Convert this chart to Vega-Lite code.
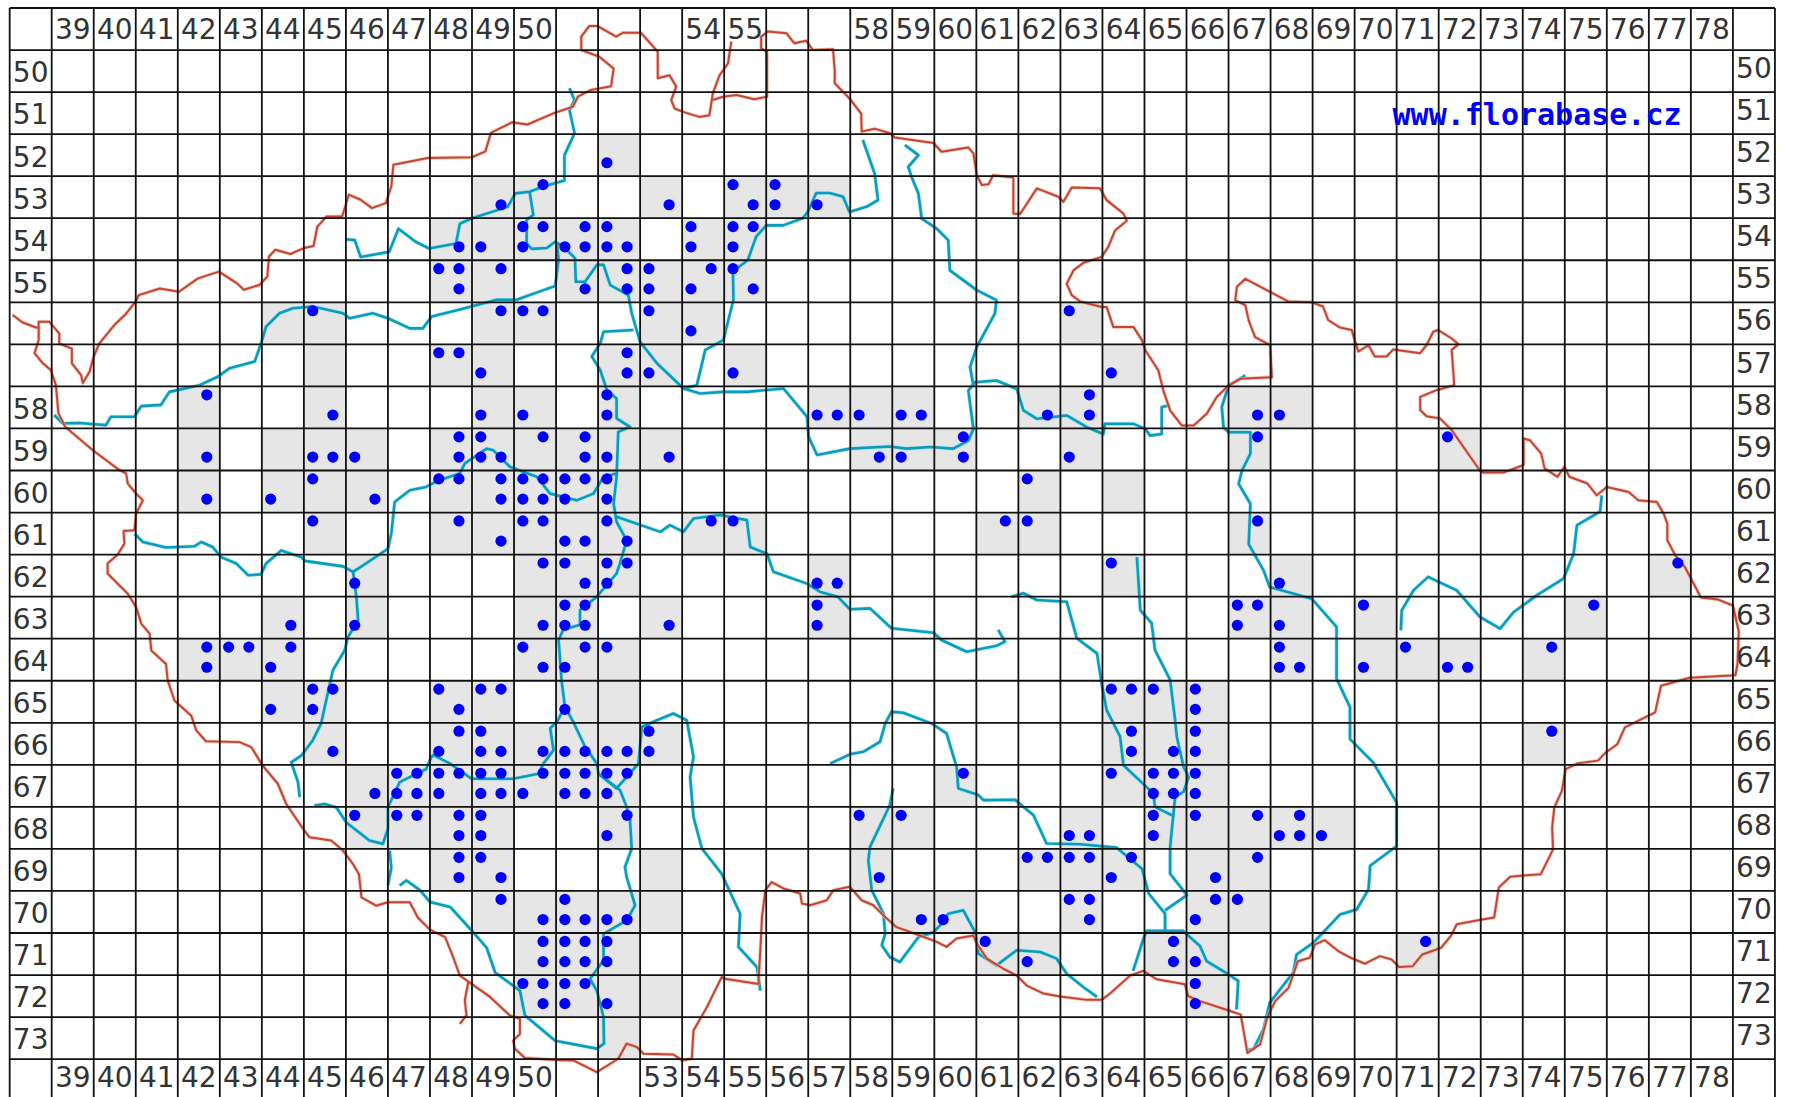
{"$schema":"https://vega.github.io/schema/vega-lite/v6.json","width":1793,"height":1097,"autosize":{"type":"none"},"padding":0,"background":"white","config":{"view":{"stroke":null}},
"datasets":{
"gray":[
{"x":52,"x2":53,"y":52,"y2":53},
{"x":49,"x2":50,"y":53,"y2":54},{"x":50,"x2":51,"y":53,"y2":54},{"x":53,"x2":54,"y":53,"y2":54},{"x":55,"x2":56,"y":53,"y2":54},{"x":56,"x2":57,"y":53,"y2":54},{"x":57,"x2":58,"y":53,"y2":54},
{"x":48,"x2":49,"y":54,"y2":55},{"x":49,"x2":50,"y":54,"y2":55},{"x":50,"x2":51,"y":54,"y2":55},{"x":51,"x2":52,"y":54,"y2":55},{"x":52,"x2":53,"y":54,"y2":55},{"x":54,"x2":55,"y":54,"y2":55},{"x":55,"x2":56,"y":54,"y2":55},
{"x":48,"x2":49,"y":55,"y2":56},{"x":49,"x2":50,"y":55,"y2":56},{"x":51,"x2":52,"y":55,"y2":56},{"x":52,"x2":53,"y":55,"y2":56},{"x":53,"x2":54,"y":55,"y2":56},{"x":54,"x2":55,"y":55,"y2":56},{"x":55,"x2":56,"y":55,"y2":56},
{"x":44,"x2":45,"y":56,"y2":57},{"x":45,"x2":46,"y":56,"y2":57},{"x":49,"x2":50,"y":56,"y2":57},{"x":50,"x2":51,"y":56,"y2":57},{"x":53,"x2":54,"y":56,"y2":57},{"x":54,"x2":55,"y":56,"y2":57},{"x":63,"x2":64,"y":56,"y2":57},
{"x":45,"x2":46,"y":57,"y2":58},{"x":48,"x2":49,"y":57,"y2":58},{"x":49,"x2":50,"y":57,"y2":58},{"x":52,"x2":53,"y":57,"y2":58},{"x":53,"x2":54,"y":57,"y2":58},{"x":55,"x2":56,"y":57,"y2":58},{"x":64,"x2":65,"y":57,"y2":58},
{"x":42,"x2":43,"y":58,"y2":59},{"x":45,"x2":46,"y":58,"y2":59},{"x":49,"x2":50,"y":58,"y2":59},{"x":50,"x2":51,"y":58,"y2":59},{"x":52,"x2":53,"y":58,"y2":59},{"x":57,"x2":58,"y":58,"y2":59},{"x":58,"x2":59,"y":58,"y2":59},{"x":59,"x2":60,"y":58,"y2":59},{"x":62,"x2":63,"y":58,"y2":59},{"x":63,"x2":64,"y":58,"y2":59},{"x":67,"x2":68,"y":58,"y2":59},{"x":68,"x2":69,"y":58,"y2":59},
{"x":42,"x2":43,"y":59,"y2":60},{"x":44,"x2":45,"y":59,"y2":60},{"x":45,"x2":46,"y":59,"y2":60},{"x":46,"x2":47,"y":59,"y2":60},{"x":48,"x2":49,"y":59,"y2":60},{"x":49,"x2":50,"y":59,"y2":60},{"x":50,"x2":51,"y":59,"y2":60},{"x":51,"x2":52,"y":59,"y2":60},{"x":52,"x2":53,"y":59,"y2":60},{"x":53,"x2":54,"y":59,"y2":60},{"x":58,"x2":59,"y":59,"y2":60},{"x":59,"x2":60,"y":59,"y2":60},{"x":60,"x2":61,"y":59,"y2":60},{"x":63,"x2":64,"y":59,"y2":60},{"x":67,"x2":68,"y":59,"y2":60},{"x":72,"x2":73,"y":59,"y2":60},
{"x":42,"x2":43,"y":60,"y2":61},{"x":44,"x2":45,"y":60,"y2":61},{"x":45,"x2":46,"y":60,"y2":61},{"x":46,"x2":47,"y":60,"y2":61},{"x":48,"x2":49,"y":60,"y2":61},{"x":49,"x2":50,"y":60,"y2":61},{"x":50,"x2":51,"y":60,"y2":61},{"x":51,"x2":52,"y":60,"y2":61},{"x":52,"x2":53,"y":60,"y2":61},{"x":62,"x2":63,"y":60,"y2":61},{"x":64,"x2":65,"y":60,"y2":61},
{"x":45,"x2":46,"y":61,"y2":62},{"x":48,"x2":49,"y":61,"y2":62},{"x":49,"x2":50,"y":61,"y2":62},{"x":50,"x2":51,"y":61,"y2":62},{"x":51,"x2":52,"y":61,"y2":62},{"x":52,"x2":53,"y":61,"y2":62},{"x":54,"x2":55,"y":61,"y2":62},{"x":55,"x2":56,"y":61,"y2":62},{"x":61,"x2":62,"y":61,"y2":62},{"x":62,"x2":63,"y":61,"y2":62},{"x":67,"x2":68,"y":61,"y2":62},
{"x":46,"x2":47,"y":62,"y2":63},{"x":50,"x2":51,"y":62,"y2":63},{"x":51,"x2":52,"y":62,"y2":63},{"x":52,"x2":53,"y":62,"y2":63},{"x":57,"x2":58,"y":62,"y2":63},{"x":64,"x2":65,"y":62,"y2":63},{"x":68,"x2":69,"y":62,"y2":63},{"x":77,"x2":78,"y":62,"y2":63},
{"x":44,"x2":45,"y":63,"y2":64},{"x":46,"x2":47,"y":63,"y2":64},{"x":50,"x2":51,"y":63,"y2":64},{"x":51,"x2":52,"y":63,"y2":64},{"x":53,"x2":54,"y":63,"y2":64},{"x":57,"x2":58,"y":63,"y2":64},{"x":67,"x2":68,"y":63,"y2":64},{"x":68,"x2":69,"y":63,"y2":64},{"x":70,"x2":71,"y":63,"y2":64},{"x":75,"x2":76,"y":63,"y2":64},
{"x":42,"x2":43,"y":64,"y2":65},{"x":43,"x2":44,"y":64,"y2":65},{"x":44,"x2":45,"y":64,"y2":65},{"x":50,"x2":51,"y":64,"y2":65},{"x":51,"x2":52,"y":64,"y2":65},{"x":52,"x2":53,"y":64,"y2":65},{"x":68,"x2":69,"y":64,"y2":65},{"x":70,"x2":71,"y":64,"y2":65},{"x":71,"x2":72,"y":64,"y2":65},{"x":72,"x2":73,"y":64,"y2":65},{"x":74,"x2":75,"y":64,"y2":65},
{"x":44,"x2":45,"y":65,"y2":66},{"x":45,"x2":46,"y":65,"y2":66},{"x":48,"x2":49,"y":65,"y2":66},{"x":49,"x2":50,"y":65,"y2":66},{"x":51,"x2":52,"y":65,"y2":66},{"x":52,"x2":53,"y":65,"y2":66},{"x":64,"x2":65,"y":65,"y2":66},{"x":65,"x2":66,"y":65,"y2":66},{"x":66,"x2":67,"y":65,"y2":66},
{"x":45,"x2":46,"y":66,"y2":67},{"x":48,"x2":49,"y":66,"y2":67},{"x":49,"x2":50,"y":66,"y2":67},{"x":50,"x2":51,"y":66,"y2":67},{"x":51,"x2":52,"y":66,"y2":67},{"x":52,"x2":53,"y":66,"y2":67},{"x":53,"x2":54,"y":66,"y2":67},{"x":64,"x2":65,"y":66,"y2":67},{"x":65,"x2":66,"y":66,"y2":67},{"x":66,"x2":67,"y":66,"y2":67},{"x":74,"x2":75,"y":66,"y2":67},
{"x":46,"x2":47,"y":67,"y2":68},{"x":47,"x2":48,"y":67,"y2":68},{"x":48,"x2":49,"y":67,"y2":68},{"x":49,"x2":50,"y":67,"y2":68},{"x":50,"x2":51,"y":67,"y2":68},{"x":51,"x2":52,"y":67,"y2":68},{"x":52,"x2":53,"y":67,"y2":68},{"x":60,"x2":61,"y":67,"y2":68},{"x":64,"x2":65,"y":67,"y2":68},{"x":65,"x2":66,"y":67,"y2":68},{"x":66,"x2":67,"y":67,"y2":68},
{"x":46,"x2":47,"y":68,"y2":69},{"x":47,"x2":48,"y":68,"y2":69},{"x":48,"x2":49,"y":68,"y2":69},{"x":49,"x2":50,"y":68,"y2":69},{"x":52,"x2":53,"y":68,"y2":69},{"x":58,"x2":59,"y":68,"y2":69},{"x":59,"x2":60,"y":68,"y2":69},{"x":63,"x2":64,"y":68,"y2":69},{"x":65,"x2":66,"y":68,"y2":69},{"x":66,"x2":67,"y":68,"y2":69},{"x":67,"x2":68,"y":68,"y2":69},{"x":68,"x2":69,"y":68,"y2":69},{"x":69,"x2":70,"y":68,"y2":69},
{"x":48,"x2":49,"y":69,"y2":70},{"x":49,"x2":50,"y":69,"y2":70},{"x":53,"x2":54,"y":69,"y2":70},{"x":58,"x2":59,"y":69,"y2":70},{"x":62,"x2":63,"y":69,"y2":70},{"x":63,"x2":64,"y":69,"y2":70},{"x":64,"x2":65,"y":69,"y2":70},{"x":66,"x2":67,"y":69,"y2":70},{"x":67,"x2":68,"y":69,"y2":70},
{"x":49,"x2":50,"y":70,"y2":71},{"x":50,"x2":51,"y":70,"y2":71},{"x":51,"x2":52,"y":70,"y2":71},{"x":52,"x2":53,"y":70,"y2":71},{"x":53,"x2":54,"y":70,"y2":71},{"x":59,"x2":60,"y":70,"y2":71},{"x":60,"x2":61,"y":70,"y2":71},{"x":63,"x2":64,"y":70,"y2":71},{"x":66,"x2":67,"y":70,"y2":71},{"x":67,"x2":68,"y":70,"y2":71},
{"x":50,"x2":51,"y":71,"y2":72},{"x":51,"x2":52,"y":71,"y2":72},{"x":52,"x2":53,"y":71,"y2":72},{"x":61,"x2":62,"y":71,"y2":72},{"x":62,"x2":63,"y":71,"y2":72},{"x":65,"x2":66,"y":71,"y2":72},{"x":66,"x2":67,"y":71,"y2":72},{"x":71,"x2":72,"y":71,"y2":72},
{"x":50,"x2":51,"y":72,"y2":73},{"x":51,"x2":52,"y":72,"y2":73},{"x":52,"x2":53,"y":72,"y2":73},{"x":53,"x2":54,"y":72,"y2":73},{"x":66,"x2":67,"y":72,"y2":73},
{"x":52,"x2":53,"y":73,"y2":74}
],
"rivers":[
{"s":"r1","x":39.06,"y":58.68},{"s":"r1","x":39.26,"y":58.88},{"s":"r1","x":39.66,"y":58.87},{"s":"r1","x":40.02,"y":58.9},{"s":"r1","x":40.29,"y":58.92},{"s":"r1","x":40.41,"y":58.72},{"s":"r1","x":40.97,"y":58.72},{"s":"r1","x":41.13,"y":58.47},{"s":"r1","x":41.6,"y":58.44},{"s":"r1","x":41.8,"y":58.13},{"s":"r1","x":42.52,"y":57.97},{"s":"r1","x":42.95,"y":57.77},{"s":"r1","x":43.23,"y":57.57},{"s":"r1","x":43.83,"y":57.41},{"s":"r1","x":43.98,"y":56.98},{"s":"r1","x":44.1,"y":56.58},{"s":"r1","x":44.42,"y":56.26},{"s":"r1","x":44.74,"y":56.14},{"s":"r1","x":45.21,"y":56.1},{"s":"r1","x":45.93,"y":56.26},{"s":"r1","x":46.09,"y":56.38},{"s":"r1","x":46.64,"y":56.26},{"s":"r1","x":47,"y":56.38},{"s":"r1","x":47.52,"y":56.62},{"s":"r1","x":47.83,"y":56.62},{"s":"r1","x":48.04,"y":56.34},{"s":"r1","x":48.71,"y":56.17},{"s":"r1","x":49.59,"y":55.94},{"s":"r1","x":50.06,"y":55.94},{"s":"r1","x":50.7,"y":55.71},{"s":"r1","x":50.98,"y":55.61},{"s":"r1","x":51.06,"y":54.99},{"s":"r1","x":51.02,"y":54.6},
{"s":"r2","x":51.32,"y":50.91},{"s":"r2","x":51.44,"y":51.19},{"s":"r2","x":51.32,"y":51.43},{"s":"r2","x":51.44,"y":51.98},{"s":"r2","x":51.2,"y":52.5},{"s":"r2","x":51.2,"y":53.1},{"s":"r2","x":50.68,"y":53.25},{"s":"r2","x":50.37,"y":53.37},{"s":"r2","x":50.03,"y":53.41},{"s":"r2","x":49.85,"y":53.73},{"s":"r2","x":49,"y":54},{"s":"r2","x":48.71,"y":54.13},{"s":"r2","x":48.62,"y":54.6},{"s":"r2","x":47.98,"y":54.72},{"s":"r2","x":47.66,"y":54.56},{"s":"r2","x":47.25,"y":54.25},{"s":"r2","x":47.03,"y":54.8},{"s":"r2","x":46.35,"y":54.92},{"s":"r2","x":46.21,"y":54.52},{"s":"r2","x":46,"y":54.5},
{"s":"r3","x":50.37,"y":53.37},{"s":"r3","x":50.46,"y":53.92},{"s":"r3","x":50.3,"y":54.04},{"s":"r3","x":50.3,"y":54.6},{"s":"r3","x":50.42,"y":54.73},{"s":"r3","x":50.78,"y":54.71},{"s":"r3","x":50.98,"y":54.56},{"s":"r3","x":51.17,"y":54.67},{"s":"r3","x":51.45,"y":54.95},{"s":"r3","x":51.47,"y":55.51},{"s":"r3","x":51.69,"y":55.51},{"s":"r3","x":51.97,"y":55.11},{"s":"r3","x":52.13,"y":55.11},{"s":"r3","x":52.29,"y":55.59},{"s":"r3","x":52.72,"y":55.83},{"s":"r3","x":52.8,"y":56.26},{"s":"r3","x":53,"y":56.94},{"s":"r3","x":53.4,"y":57.45},{"s":"r3","x":54.03,"y":58.05},{"s":"r3","x":54.43,"y":58.17},{"s":"r3","x":54.98,"y":58.13},{"s":"r3","x":55.54,"y":58.13},{"s":"r3","x":56.41,"y":58.05},{"s":"r3","x":56.97,"y":58.72},{"s":"r3","x":57.01,"y":59.2},{"s":"r3","x":57.21,"y":59.63},{"s":"r3","x":57.99,"y":59.48},{"s":"r3","x":58.94,"y":59.43},{"s":"r3","x":59.34,"y":59.48},{"s":"r3","x":59.9,"y":59.44},{"s":"r3","x":60.45,"y":59.48},{"s":"r3","x":60.81,"y":59.29},{"s":"r3","x":60.93,"y":59.01},{"s":"r3","x":60.81,"y":58.1},{"s":"r3","x":60.97,"y":57.9},{"s":"r3","x":61.48,"y":57.86},{"s":"r3","x":61.96,"y":58.06},{"s":"r3","x":62.12,"y":58.57},{"s":"r3","x":62.44,"y":58.77},{"s":"r3","x":63.15,"y":58.69},{"s":"r3","x":63.63,"y":58.97},{"s":"r3","x":64.02,"y":59.13},{"s":"r3","x":64.06,"y":58.89},{"s":"r3","x":64.74,"y":58.89},{"s":"r3","x":65.02,"y":59.01},{"s":"r3","x":65.13,"y":59.17},{"s":"r3","x":65.41,"y":59.13},{"s":"r3","x":65.41,"y":58.49},{"s":"r3","x":65.61,"y":58.45},
{"s":"r4","x":58.3,"y":52.14},{"s":"r4","x":58.58,"y":52.94},{"s":"r4","x":58.66,"y":53.57},{"s":"r4","x":58.38,"y":53.73},{"s":"r4","x":57.98,"y":53.85},{"s":"r4","x":57.83,"y":53.49},{"s":"r4","x":57.51,"y":53.4},{"s":"r4","x":57.19,"y":53.4},{"s":"r4","x":56.99,"y":53.85},{"s":"r4","x":56.87,"y":54},{"s":"r4","x":56.4,"y":54.17},{"s":"r4","x":56,"y":54.17},{"s":"r4","x":55.76,"y":54.44},{"s":"r4","x":55.56,"y":55},{"s":"r4","x":55.29,"y":55.2},{"s":"r4","x":55.21,"y":55.32},{"s":"r4","x":55.22,"y":55.94},{"s":"r4","x":55.14,"y":56.26},{"s":"r4","x":54.98,"y":56.9},{"s":"r4","x":54.55,"y":57.13},{"s":"r4","x":54.35,"y":57.97},{"s":"r4","x":54.03,"y":58.05},
{"s":"r5","x":52.84,"y":56.66},{"s":"r5","x":52.13,"y":56.7},{"s":"r5","x":52.05,"y":56.98},{"s":"r5","x":51.85,"y":57.29},{"s":"r5","x":52.05,"y":57.61},{"s":"r5","x":52.21,"y":58.09},{"s":"r5","x":52.44,"y":58.29},{"s":"r5","x":52.44,"y":58.76},{"s":"r5","x":52.76,"y":58.96},{"s":"r5","x":52.48,"y":59.08},{"s":"r5","x":52.44,"y":60.15},{"s":"r5","x":52.37,"y":60.79},{"s":"r5","x":52.44,"y":61.22},{"s":"r5","x":52.68,"y":61.66},{"s":"r5","x":52.52,"y":62.21},{"s":"r5","x":52.44,"y":62.45},{"s":"r5","x":51.97,"y":63},{"s":"r5","x":51.57,"y":63.32},{"s":"r5","x":51.57,"y":63.67},{"s":"r5","x":51.17,"y":63.79},{"s":"r5","x":51.06,"y":64.03},{"s":"r5","x":51.13,"y":64.98},{"s":"r5","x":51.21,"y":65.62},{"s":"r5","x":51.41,"y":65.98},{"s":"r5","x":51.69,"y":66.57},{"s":"r5","x":51.97,"y":66.97},{"s":"r5","x":52.01,"y":67.21},{"s":"r5","x":52.52,"y":67.6},{"s":"r5","x":52.68,"y":68},{"s":"r5","x":52.76,"y":68.32},{"s":"r5","x":52.8,"y":68.99},{"s":"r5","x":52.64,"y":69.43},{"s":"r5","x":52.68,"y":69.67},{"s":"r5","x":52.88,"y":70.34},{"s":"r5","x":52.68,"y":70.7},{"s":"r5","x":52.13,"y":71.02},{"s":"r5","x":52.13,"y":71.65},{"s":"r5","x":51.81,"y":72.09},{"s":"r5","x":51.97,"y":72.37},{"s":"r5","x":52.13,"y":73},{"s":"r5","x":52.14,"y":73.63},{"s":"r5","x":51.97,"y":73.75},{"s":"r5","x":50.98,"y":73.56},{"s":"r5","x":50.26,"y":72.96},{"s":"r5","x":50.14,"y":72.37},{"s":"r5","x":49.55,"y":71.94},{"s":"r5","x":49.35,"y":71.35},{"s":"r5","x":49,"y":70.95},{"s":"r5","x":48.48,"y":70.38},{"s":"r5","x":48,"y":70.26},{"s":"r5","x":47.76,"y":69.98},{"s":"r5","x":47.44,"y":69.75},{"s":"r5","x":47.28,"y":69.87},
{"s":"r6","x":40.97,"y":61.5},{"s":"r6","x":41.17,"y":61.7},{"s":"r6","x":41.72,"y":61.83},{"s":"r6","x":42.4,"y":61.8},{"s":"r6","x":42.56,"y":61.7},{"s":"r6","x":42.83,"y":61.82},{"s":"r6","x":43.03,"y":62.06},{"s":"r6","x":43.39,"y":62.21},{"s":"r6","x":43.67,"y":62.49},{"s":"r6","x":43.98,"y":62.47},{"s":"r6","x":44.1,"y":62.21},{"s":"r6","x":44.46,"y":61.9},{"s":"r6","x":44.94,"y":62.06},{"s":"r6","x":45.02,"y":62.15},{"s":"r6","x":45.93,"y":62.28},{"s":"r6","x":46.17,"y":62.41},{"s":"r6","x":46.48,"y":62.21},{"s":"r6","x":47,"y":61.86},{"s":"r6","x":47.08,"y":61.5},{"s":"r6","x":47.16,"y":60.75},{"s":"r6","x":47.52,"y":60.47},{"s":"r6","x":47.91,"y":60.39},{"s":"r6","x":48.21,"y":60.23},{"s":"r6","x":48.71,"y":60.07},{"s":"r6","x":48.83,"y":59.83},{"s":"r6","x":49.35,"y":59.48},{"s":"r6","x":49.51,"y":59.52},{"s":"r6","x":49.9,"y":59.91},{"s":"r6","x":50.54,"y":60.15},{"s":"r6","x":50.86,"y":60.55},{"s":"r6","x":51.49,"y":60.71},{"s":"r6","x":51.89,"y":60.55},{"s":"r6","x":52.13,"y":60.15},{"s":"r6","x":52.44,"y":60.07},
{"s":"r7","x":46.17,"y":62.41},{"s":"r7","x":46.25,"y":63.01},{"s":"r7","x":46.29,"y":63.56},{"s":"r7","x":46.05,"y":63.96},{"s":"r7","x":45.97,"y":64.28},{"s":"r7","x":45.69,"y":64.75},{"s":"r7","x":45.53,"y":65.47},{"s":"r7","x":45.41,"y":66.02},{"s":"r7","x":45.21,"y":66.42},{"s":"r7","x":44.94,"y":66.78},{"s":"r7","x":44.7,"y":66.94},{"s":"r7","x":44.86,"y":67.41},{"s":"r7","x":44.9,"y":67.77},
{"s":"r8","x":45.25,"y":67.97},{"s":"r8","x":45.49,"y":67.93},{"s":"r8","x":45.77,"y":68.01},{"s":"r8","x":46.01,"y":68.37},{"s":"r8","x":46.56,"y":68.8},{"s":"r8","x":46.88,"y":68.88},{"s":"r8","x":47,"y":68.52},{"s":"r8","x":47,"y":68.01},{"s":"r8","x":47.28,"y":67.41},{"s":"r8","x":47.91,"y":67.1},{"s":"r8","x":48.03,"y":66.82},{"s":"r8","x":48.08,"y":66.77},{"s":"r8","x":48.48,"y":66.97},{"s":"r8","x":48.99,"y":67.33},{"s":"r8","x":49.98,"y":67.33},{"s":"r8","x":50.58,"y":67.21},{"s":"r8","x":50.7,"y":66.97},{"s":"r8","x":50.94,"y":66.65},{"s":"r8","x":50.86,"y":66.13},{"s":"r8","x":51.02,"y":65.98},{"s":"r8","x":51.21,"y":65.62},
{"s":"r9","x":47.04,"y":69.04},{"s":"r9","x":47.08,"y":69.44},{"s":"r9","x":47,"y":69.87},
{"s":"r10","x":52.01,"y":67.21},{"s":"r10","x":52.44,"y":67.56},{"s":"r10","x":52.96,"y":66.97},{"s":"r10","x":53.04,"y":66.1},{"s":"r10","x":53.4,"y":65.94},{"s":"r10","x":53.79,"y":65.78},{"s":"r10","x":54.11,"y":65.94},{"s":"r10","x":54.27,"y":66.81},{"s":"r10","x":54.19,"y":67.29},{"s":"r10","x":54.27,"y":68.24},{"s":"r10","x":54.47,"y":68.99},{"s":"r10","x":54.94,"y":69.59},{"s":"r10","x":55.38,"y":70.54},{"s":"r10","x":55.34,"y":71.33},{"s":"r10","x":55.78,"y":71.81},{"s":"r10","x":55.86,"y":72.37},
{"s":"r11","x":52.44,"y":61.1},{"s":"r11","x":53.48,"y":61.46},{"s":"r11","x":53.71,"y":61.3},{"s":"r11","x":54.03,"y":61.46},{"s":"r11","x":54.27,"y":61.14},{"s":"r11","x":54.9,"y":61.06},{"s":"r11","x":55.54,"y":61.18},{"s":"r11","x":55.62,"y":61.82},{"s":"r11","x":56.02,"y":61.98},{"s":"r11","x":56.17,"y":62.41},{"s":"r11","x":56.97,"y":62.69},{"s":"r11","x":57.29,"y":62.89},{"s":"r11","x":57.7,"y":63.0},{"s":"r11","x":57.99,"y":63.3},{"s":"r11","x":58.47,"y":63.28},{"s":"r11","x":58.98,"y":63.75},{"s":"r11","x":59.98,"y":63.86},{"s":"r11","x":60.17,"y":64.03},{"s":"r11","x":60.77,"y":64.31},{"s":"r11","x":61.48,"y":64.17},{"s":"r11","x":61.68,"y":64.07},{"s":"r11","x":61.52,"y":63.79},
{"s":"r12","x":57.52,"y":66.97},{"s":"r12","x":57.99,"y":66.75},{"s":"r12","x":58.31,"y":66.69},{"s":"r12","x":58.71,"y":66.45},{"s":"r12","x":58.83,"y":66.02},{"s":"r12","x":58.98,"y":65.74},{"s":"r12","x":59.26,"y":65.76},{"s":"r12","x":59.94,"y":66.02},{"s":"r12","x":60.29,"y":66.25},{"s":"r12","x":60.53,"y":67.05},{"s":"r12","x":60.57,"y":67.56},{"s":"r12","x":61.05,"y":67.72},{"s":"r12","x":61.17,"y":67.84},{"s":"r12","x":61.92,"y":67.83},{"s":"r12","x":62.36,"y":68.2},{"s":"r12","x":62.67,"y":68.87},{"s":"r12","x":63.47,"y":68.89},{"s":"r12","x":64.34,"y":68.97},{"s":"r12","x":64.94,"y":69.47},{"s":"r12","x":65.1,"y":70.06},{"s":"r12","x":65.49,"y":70.54},{"s":"r12","x":65.49,"y":70.94},
{"s":"r13","x":65.49,"y":70.46},{"s":"r13","x":66.01,"y":70.1},{"s":"r13","x":65.61,"y":69.59},{"s":"r13","x":65.61,"y":68.95},{"s":"r13","x":65.69,"y":68.16},{"s":"r13","x":65.73,"y":67.76},{"s":"r13","x":65.93,"y":67.64},{"s":"r13","x":66.05,"y":67.29},{"s":"r13","x":65.93,"y":67.05},{"s":"r13","x":65.77,"y":66.33},{"s":"r13","x":65.73,"y":65.94},{"s":"r13","x":65.61,"y":64.98},{"s":"r13","x":65.25,"y":64.27},{"s":"r13","x":65.17,"y":63.63},{"s":"r13","x":64.9,"y":63.32},{"s":"r13","x":64.82,"y":62.06},
{"s":"r14","x":61.84,"y":63},{"s":"r14","x":62.12,"y":62.92},{"s":"r14","x":62.44,"y":63.08},{"s":"r14","x":63.15,"y":63.12},{"s":"r14","x":63.39,"y":63.99},{"s":"r14","x":63.87,"y":64.35},{"s":"r14","x":63.98,"y":65.06},{"s":"r14","x":64.1,"y":65.7},{"s":"r14","x":64.42,"y":66.33},{"s":"r14","x":64.5,"y":67.01},{"s":"r14","x":65.21,"y":67.68},{"s":"r14","x":65.25,"y":68},{"s":"r14","x":65.65,"y":68.2},
{"s":"r15","x":59.02,"y":67.56},{"s":"r15","x":58.94,"y":67.96},{"s":"r15","x":58.47,"y":68.95},{"s":"r15","x":58.43,"y":69.27},{"s":"r15","x":58.51,"y":69.98},{"s":"r15","x":58.79,"y":70.54},{"s":"r15","x":58.83,"y":71.02},{"s":"r15","x":58.75,"y":71.29},{"s":"r15","x":58.94,"y":71.57},{"s":"r15","x":59.18,"y":71.69},{"s":"r15","x":59.62,"y":71.1},{"s":"r15","x":59.98,"y":70.98},{"s":"r15","x":60.21,"y":70.74},{"s":"r15","x":60.33,"y":70.54},{"s":"r15","x":60.69,"y":70.46},{"s":"r15","x":60.97,"y":70.98},{"s":"r15","x":61.05,"y":71.49},{"s":"r15","x":61.48,"y":71.77},{"s":"r15","x":61.96,"y":71.41},{"s":"r15","x":62.52,"y":71.45},{"s":"r15","x":62.91,"y":71.61},{"s":"r15","x":63.15,"y":71.97},{"s":"r15","x":63.55,"y":72.29},{"s":"r15","x":63.87,"y":72.52},
{"s":"r16","x":64.73,"y":71.9},{"s":"r16","x":64.97,"y":71.15},{"s":"r16","x":65.05,"y":70.95},{"s":"r16","x":65.92,"y":70.95},{"s":"r16","x":66.32,"y":71.31},{"s":"r16","x":66.48,"y":71.67},{"s":"r16","x":66.99,"y":71.98},{"s":"r16","x":67.23,"y":72.14},{"s":"r16","x":67.19,"y":72.82},
{"s":"r17","x":67.4,"y":57.74},{"s":"r17","x":67,"y":57.98},{"s":"r17","x":66.84,"y":58.49},{"s":"r17","x":66.88,"y":58.97},{"s":"r17","x":67,"y":59.09},{"s":"r17","x":67.52,"y":59.09},{"s":"r17","x":67.52,"y":59.6},{"s":"r17","x":67.32,"y":60},{"s":"r17","x":67.24,"y":60.32},{"s":"r17","x":67.52,"y":60.79},{"s":"r17","x":67.48,"y":61.75},{"s":"r17","x":67.83,"y":62.37},{"s":"r17","x":67.98,"y":62.77},{"s":"r17","x":68.98,"y":63.05},{"s":"r17","x":69.57,"y":63.72},{"s":"r17","x":69.57,"y":64.95},{"s":"r17","x":69.89,"y":65.63},{"s":"r17","x":69.89,"y":66.39},{"s":"r17","x":70.44,"y":66.94},{"s":"r17","x":71,"y":67.9},{"s":"r17","x":71,"y":68.93},{"s":"r17","x":70.37,"y":69.4},{"s":"r17","x":70.33,"y":69.96},{"s":"r17","x":70.05,"y":70.44},{"s":"r17","x":69.65,"y":70.56},{"s":"r17","x":69.02,"y":71.23},{"s":"r17","x":68.62,"y":71.51},{"s":"r17","x":68.54,"y":71.94},{"s":"r17","x":67.98,"y":72.66},{"s":"r17","x":67.83,"y":73.29},{"s":"r17","x":67.59,"y":73.77},{"s":"r17","x":67.47,"y":73.77},
{"s":"r18","x":71.1,"y":63.8},{"s":"r18","x":71.12,"y":63.33},{"s":"r18","x":71.4,"y":62.85},{"s":"r18","x":71.75,"y":62.53},{"s":"r18","x":72.43,"y":62.85},{"s":"r18","x":72.98,"y":63.48},{"s":"r18","x":73.46,"y":63.76},{"s":"r18","x":73.78,"y":63.37},{"s":"r18","x":74.33,"y":62.97},{"s":"r18","x":74.97,"y":62.57},{"s":"r18","x":75.21,"y":61.98},{"s":"r18","x":75.29,"y":61.3},{"s":"r18","x":75.84,"y":60.98},{"s":"r18","x":75.88,"y":60.59},
{"s":"r20","x":59.3,"y":52.26},{"s":"r20","x":59.62,"y":52.5},{"s":"r20","x":59.38,"y":52.78},{"s":"r20","x":59.46,"y":53.02},{"s":"r20","x":59.62,"y":53.41},{"s":"r20","x":59.7,"y":54.01},{"s":"r20","x":60.06,"y":54.25},{"s":"r20","x":60.33,"y":54.52},{"s":"r20","x":60.37,"y":55.24},{"s":"r20","x":61.01,"y":55.71},{"s":"r20","x":61.48,"y":55.95},{"s":"r20","x":61.44,"y":56.27},{"s":"r20","x":61.01,"y":57.06},{"s":"r20","x":60.85,"y":57.54},{"s":"r20","x":60.93,"y":57.98}
],
"border":[
{"s":"b1","x":41,"y":55.98},{"s":"b1","x":41.07,"y":55.83},{"s":"b1","x":41.57,"y":55.67},{"s":"b1","x":42.03,"y":55.75},{"s":"b1","x":42.48,"y":55.43},{"s":"b1","x":42.98,"y":55.27},{"s":"b1","x":43.41,"y":55.55},{"s":"b1","x":43.57,"y":55.7},{"s":"b1","x":43.94,"y":55.59},{"s":"b1","x":44.13,"y":55.39},{"s":"b1","x":44.17,"y":54.91},{"s":"b1","x":44.32,"y":54.75},{"s":"b1","x":44.68,"y":54.85},{"s":"b1","x":45,"y":54.71},{"s":"b1","x":45.23,"y":54.66},{"s":"b1","x":45.32,"y":54.2},{"s":"b1","x":45.54,"y":53.96},{"s":"b1","x":45.91,"y":53.96},{"s":"b1","x":46.07,"y":53.44},{"s":"b1","x":46.35,"y":53.56},{"s":"b1","x":46.62,"y":53.76},{"s":"b1","x":46.95,"y":53.64},{"s":"b1","x":47.08,"y":53.24},{"s":"b1","x":47.13,"y":52.73},{"s":"b1","x":47.95,"y":52.57},{"s":"b1","x":49,"y":52.55},{"s":"b1","x":49.32,"y":52.41},{"s":"b1","x":49.45,"y":51.97},{"s":"b1","x":49.95,"y":51.72},{"s":"b1","x":50.32,"y":51.77},{"s":"b1","x":50.95,"y":51.5},{"s":"b1","x":51.4,"y":51.35},{"s":"b1","x":51.52,"y":51.11},{"s":"b1","x":51.83,"y":50.95},{"s":"b1","x":52.31,"y":50.86},{"s":"b1","x":52.37,"y":50.44},{"s":"b1","x":52.03,"y":50.16},{"s":"b1","x":51.6,"y":50},{"s":"b1","x":51.6,"y":49.68},{"s":"b1","x":51.79,"y":49.43},{"s":"b1","x":51.99,"y":49.43},{"s":"b1","x":52.43,"y":49.68},{"s":"b1","x":52.59,"y":49.59},{"s":"b1","x":53.02,"y":49.59},{"s":"b1","x":53.42,"y":50.04},{"s":"b1","x":53.42,"y":50.67},{"s":"b1","x":53.7,"y":50.6},{"s":"b1","x":53.86,"y":50.87},{"s":"b1","x":53.74,"y":51.19},{"s":"b1","x":53.82,"y":51.39},{"s":"b1","x":54.02,"y":51.47},{"s":"b1","x":54.41,"y":51.59},{"s":"b1","x":54.65,"y":51.55},{"s":"b1","x":54.73,"y":51.03},{"s":"b1","x":54.89,"y":50.6},{"s":"b1","x":55.09,"y":50.32},{"s":"b1","x":55.17,"y":49.8},
{"s":"b2","x":54.73,"y":51.19},{"s":"b2","x":54.97,"y":51.11},{"s":"b2","x":55.29,"y":51.07},{"s":"b2","x":55.72,"y":51.17},{"s":"b2","x":56.02,"y":51.11},{"s":"b2","x":56.02,"y":50.04},{"s":"b2","x":55.88,"y":49.96},{"s":"b2","x":55.88,"y":49.68},{"s":"b2","x":56.04,"y":49.56},{"s":"b2","x":56.48,"y":49.6},{"s":"b2","x":56.67,"y":49.84},{"s":"b2","x":56.95,"y":49.78},{"s":"b2","x":57.11,"y":50},{"s":"b2","x":57.59,"y":49.98},{"s":"b2","x":57.63,"y":50.48},{"s":"b2","x":57.63,"y":50.79},{"s":"b2","x":57.98,"y":51.15},{"s":"b2","x":58.26,"y":51.51},{"s":"b2","x":58.27,"y":51.94},{"s":"b2","x":58.58,"y":51.87},{"s":"b2","x":58.94,"y":51.98},{"s":"b2","x":59.06,"y":52.08},{"s":"b2","x":59.98,"y":52.21},{"s":"b2","x":60.17,"y":52.42},{"s":"b2","x":60.81,"y":52.32},{"s":"b2","x":60.93,"y":52.46},{"s":"b2","x":61.01,"y":52.98},{"s":"b2","x":61.13,"y":53.21},{"s":"b2","x":61.29,"y":53.19},{"s":"b2","x":61.4,"y":52.98},{"s":"b2","x":61.88,"y":53.03},{"s":"b2","x":61.88,"y":53.89},{"s":"b2","x":62.04,"y":53.9},{"s":"b2","x":62.44,"y":53.29},{"s":"b2","x":62.95,"y":53.49},{"s":"b2","x":63.07,"y":53.61},{"s":"b2","x":63.27,"y":53.27},{"s":"b2","x":63.94,"y":53.29},{"s":"b2","x":64.1,"y":53.57},{"s":"b2","x":64.5,"y":53.89},{"s":"b2","x":64.58,"y":54.06},{"s":"b2","x":64.3,"y":54.29},{"s":"b2","x":64.14,"y":54.68},{"s":"b2","x":63.98,"y":54.92},{"s":"b2","x":63.55,"y":55.06},{"s":"b2","x":63.31,"y":55.24},{"s":"b2","x":63.15,"y":55.56},{"s":"b2","x":63.27,"y":55.83},{"s":"b2","x":63.47,"y":55.98},{"s":"b2","x":63.98,"y":56.11},{"s":"b2","x":64.1,"y":56.11},{"s":"b2","x":64.26,"y":56.59},{"s":"b2","x":64.74,"y":56.59},{"s":"b2","x":64.94,"y":56.9},{"s":"b2","x":65.02,"y":57.14},{"s":"b2","x":65.33,"y":57.62},{"s":"b2","x":65.45,"y":58.1},{"s":"b2","x":65.61,"y":58.57},{"s":"b2","x":65.89,"y":58.93},{"s":"b2","x":66.17,"y":58.93},{"s":"b2","x":66.48,"y":58.65},{"s":"b2","x":66.72,"y":58.25},{"s":"b2","x":67,"y":57.98},{"s":"b2","x":67.28,"y":57.82},{"s":"b2","x":68.03,"y":57.78},{"s":"b2","x":67.99,"y":57.02},{"s":"b2","x":67.63,"y":56.83},{"s":"b2","x":67.48,"y":56.43},{"s":"b2","x":67.4,"y":56.07},{"s":"b2","x":67.16,"y":55.95},{"s":"b2","x":67.2,"y":55.63},{"s":"b2","x":67.4,"y":55.44},{"s":"b2","x":67.91,"y":55.71},{"s":"b2","x":68.42,"y":55.98},{"s":"b2","x":68.98,"y":56},{"s":"b2","x":69.25,"y":56.1},{"s":"b2","x":69.37,"y":56.42},{"s":"b2","x":69.65,"y":56.6},{"s":"b2","x":69.93,"y":56.66},{"s":"b2","x":70.05,"y":57.06},{"s":"b2","x":70.09,"y":57.17},{"s":"b2","x":70.33,"y":57.02},{"s":"b2","x":70.48,"y":57.29},{"s":"b2","x":70.76,"y":57.29},{"s":"b2","x":70.92,"y":57.12},{"s":"b2","x":71.56,"y":57.21},{"s":"b2","x":71.71,"y":57.02},{"s":"b2","x":71.87,"y":56.7},{"s":"b2","x":71.99,"y":56.66},{"s":"b2","x":72.31,"y":56.86},{"s":"b2","x":72.47,"y":57},{"s":"b2","x":72.31,"y":57.13},{"s":"b2","x":72.37,"y":57.97},{"s":"b2","x":71.95,"y":58.09},{"s":"b2","x":71.56,"y":58.25},{"s":"b2","x":71.56,"y":58.56},{"s":"b2","x":71.71,"y":58.71},{"s":"b2","x":72.03,"y":58.76},{"s":"b2","x":72.31,"y":59.04},{"s":"b2","x":72.59,"y":59.44},{"s":"b2","x":72.98,"y":60},{"s":"b2","x":73.06,"y":60.05},{"s":"b2","x":73.54,"y":60.05},{"s":"b2","x":74.02,"y":59.87},{"s":"b2","x":74.02,"y":59.24},{"s":"b2","x":74.17,"y":59.28},{"s":"b2","x":74.44,"y":59.6},{"s":"b2","x":74.52,"y":59.95},{"s":"b2","x":74.83,"y":60.15},{"s":"b2","x":74.99,"y":59.91},{"s":"b2","x":75.11,"y":60.15},{"s":"b2","x":75.54,"y":60.31},{"s":"b2","x":75.76,"y":60.59},{"s":"b2","x":76,"y":60.39},{"s":"b2","x":76.52,"y":60.51},{"s":"b2","x":76.75,"y":60.71},{"s":"b2","x":77.19,"y":60.75},{"s":"b2","x":77.35,"y":61.02},{"s":"b2","x":77.44,"y":61.26},{"s":"b2","x":77.44,"y":61.66},{"s":"b2","x":77.63,"y":62.02},{"s":"b2","x":77.86,"y":62.3},{"s":"b2","x":78.24,"y":63.02},{"s":"b2","x":78.65,"y":63.07},{"s":"b2","x":79,"y":63.21},{"s":"b2","x":79.14,"y":63.83},{"s":"b2","x":79.11,"y":64.6},{"s":"b2","x":79.06,"y":64.87},{"s":"b2","x":77.97,"y":64.93},{"s":"b2","x":77.29,"y":65.12},{"s":"b2","x":77.15,"y":65.75},{"s":"b2","x":76.43,"y":66.11},{"s":"b2","x":76.25,"y":66.51},{"s":"b2","x":75.97,"y":66.71},{"s":"b2","x":75.79,"y":66.9},{"s":"b2","x":75.29,"y":66.97},{"s":"b2","x":75.02,"y":67.1},{"s":"b2","x":74.93,"y":67.62},{"s":"b2","x":74.75,"y":68.02},{"s":"b2","x":74.7,"y":68.49},{"s":"b2","x":74.72,"y":69.01},{"s":"b2","x":74.43,"y":69.6},{"s":"b2","x":73.7,"y":69.66},{"s":"b2","x":73.43,"y":69.92},{"s":"b2","x":73.32,"y":70.63},{"s":"b2","x":72.97,"y":70.69},{"s":"b2","x":72.43,"y":70.79},{"s":"b2","x":72.29,"y":71.07},{"s":"b2","x":72.06,"y":71.35},{"s":"b2","x":71.61,"y":71.51},{"s":"b2","x":71.38,"y":71.79},{"s":"b2","x":71.06,"y":71.81},{"s":"b2","x":70.88,"y":71.63},{"s":"b2","x":70.6,"y":71.55},{"s":"b2","x":70.25,"y":71.73},{"s":"b2","x":69.93,"y":71.6},{"s":"b2","x":69.61,"y":71.43},{"s":"b2","x":69.29,"y":71.17},{"s":"b2","x":69.06,"y":71.27},{"s":"b2","x":68.93,"y":71.59},{"s":"b2","x":68.65,"y":71.67},{"s":"b2","x":68.43,"y":72.3},{"s":"b2","x":68.11,"y":72.62},{"s":"b2","x":67.93,"y":72.98},{"s":"b2","x":67.75,"y":73.65},{"s":"b2","x":67.45,"y":73.85},{"s":"b2","x":67.29,"y":72.94},{"s":"b2","x":67.06,"y":72.86},{"s":"b2","x":66.32,"y":72.62},{"s":"b2","x":66.04,"y":72.5},{"s":"b2","x":65.96,"y":72.22},{"s":"b2","x":65.29,"y":72.1},{"s":"b2","x":64.97,"y":71.9},{"s":"b2","x":64.66,"y":72.01},{"s":"b2","x":64.18,"y":72.44},{"s":"b2","x":63.98,"y":72.59},{"s":"b2","x":63.63,"y":72.59},{"s":"b2","x":62.99,"y":72.51},{"s":"b2","x":62.6,"y":72.44},{"s":"b2","x":62.2,"y":72.25},{"s":"b2","x":61.96,"y":72.01},{"s":"b2","x":61.64,"y":71.85},{"s":"b2","x":61.25,"y":71.61},{"s":"b2","x":61.01,"y":71.25},{"s":"b2","x":60.93,"y":71.06},{"s":"b2","x":60.53,"y":71.13},{"s":"b2","x":60.29,"y":71.33},{"s":"b2","x":60.06,"y":71.21},{"s":"b2","x":59.66,"y":71.06},{"s":"b2","x":59.1,"y":70.86},{"s":"b2","x":58.83,"y":70.62},{"s":"b2","x":58.55,"y":70.34},{"s":"b2","x":58.27,"y":70.22},{"s":"b2","x":57.99,"y":69.9},{"s":"b2","x":57.6,"y":69.98},{"s":"b2","x":57.44,"y":70.22},{"s":"b2","x":57.05,"y":70.34},{"s":"b2","x":56.85,"y":70.3},{"s":"b2","x":56.81,"y":70.06},{"s":"b2","x":56.41,"y":69.94},{"s":"b2","x":56.13,"y":69.79},{"s":"b2","x":55.98,"y":69.98},{"s":"b2","x":55.9,"y":70.62},{"s":"b2","x":55.86,"y":71.41},{"s":"b2","x":55.82,"y":72.05},{"s":"b2","x":55.82,"y":72.21},{"s":"b2","x":55.02,"y":72.09},{"s":"b2","x":54.94,"y":72.05},{"s":"b2","x":54.59,"y":72.76},{"s":"b2","x":54.27,"y":73.32},{"s":"b2","x":54.23,"y":73.99},{"s":"b2","x":54,"y":74.03},{"s":"b2","x":53.79,"y":73.89},{"s":"b2","x":53.08,"y":73.87},{"s":"b2","x":52.92,"y":73.71},{"s":"b2","x":52.68,"y":73.63},{"s":"b2","x":52.48,"y":73.99},{"s":"b2","x":51.97,"y":74.31},{"s":"b2","x":51.65,"y":74.15},{"s":"b2","x":51.41,"y":74.03},{"s":"b2","x":51.02,"y":74.02},{"s":"b2","x":50.26,"y":73.97},{"s":"b2","x":50.02,"y":73.75},{"s":"b2","x":49.98,"y":73.56},{"s":"b2","x":50.14,"y":73.4},{"s":"b2","x":50.14,"y":73.04},{"s":"b2","x":49.9,"y":72.96},{"s":"b2","x":49.43,"y":72.52},{"s":"b2","x":48.99,"y":72.21},{"s":"b2","x":48.71,"y":72.01},{"s":"b2","x":48.52,"y":71.49},{"s":"b2","x":48.36,"y":71.1},{"s":"b2","x":48,"y":70.92},{"s":"b2","x":47.71,"y":70.63},{"s":"b2","x":47.52,"y":70.27},{"s":"b2","x":47,"y":70.27},{"s":"b2","x":46.72,"y":70.35},{"s":"b2","x":46.37,"y":70.15},{"s":"b2","x":46.31,"y":69.6},{"s":"b2","x":46.17,"y":69.36},{"s":"b2","x":45.93,"y":69.04},{"s":"b2","x":45.65,"y":68.8},{"s":"b2","x":45.13,"y":68.72},{"s":"b2","x":44.98,"y":68.52},{"s":"b2","x":44.58,"y":67.93},{"s":"b2","x":44.38,"y":67.45},{"s":"b2","x":44.02,"y":67.02},{"s":"b2","x":43.75,"y":66.58},{"s":"b2","x":43.47,"y":66.46},{"s":"b2","x":42.67,"y":66.44},{"s":"b2","x":42.44,"y":66.18},{"s":"b2","x":42.32,"y":65.83},{"s":"b2","x":41.92,"y":65.47},{"s":"b2","x":41.76,"y":64.99},{"s":"b2","x":41.72,"y":64.6},{"s":"b2","x":41.37,"y":64.28},{"s":"b2","x":41.33,"y":63.88},{"s":"b2","x":41.13,"y":63.64},{"s":"b2","x":41.01,"y":63.25},{"s":"b2","x":40.81,"y":62.93},{"s":"b2","x":40.33,"y":62.45},{"s":"b2","x":40.33,"y":62.21},{"s":"b2","x":40.57,"y":62},{"s":"b2","x":40.73,"y":61.74},{"s":"b2","x":40.71,"y":61.44},{"s":"b2","x":40.97,"y":61.42},{"s":"b2","x":41.01,"y":61.02},{"s":"b2","x":41.17,"y":60.71},{"s":"b2","x":41.01,"y":60.55},{"s":"b2","x":40.81,"y":60.31},{"s":"b2","x":40.77,"y":60.07},{"s":"b2","x":40.61,"y":59.99},{"s":"b2","x":39.98,"y":59.52},{"s":"b2","x":39.32,"y":58.96},{"s":"b2","x":39.16,"y":58.64},{"s":"b2","x":39.1,"y":57.97},{"s":"b2","x":38.98,"y":57.61},{"s":"b2","x":38.79,"y":57.45},{"s":"b2","x":38.59,"y":57.21},{"s":"b2","x":38.69,"y":56.9},{"s":"b2","x":38.69,"y":56.46},{"s":"b2","x":38.94,"y":56.46},{"s":"b2","x":39.18,"y":56.74},{"s":"b2","x":39.18,"y":56.98},{"s":"b2","x":39.48,"y":57.1},{"s":"b2","x":39.48,"y":57.45},{"s":"b2","x":39.7,"y":57.73},{"s":"b2","x":39.74,"y":57.92},{"s":"b2","x":39.9,"y":57.65},{"s":"b2","x":40,"y":57.29},{"s":"b2","x":40.13,"y":56.98},{"s":"b2","x":40.49,"y":56.54},{"s":"b2","x":40.77,"y":56.27},{"s":"b2","x":41,"y":55.98},
{"s":"b3","x":38.07,"y":56.3},{"s":"b3","x":38.31,"y":56.48},{"s":"b3","x":38.63,"y":56.6},{"s":"b3","x":38.69,"y":56.6},
{"s":"b4","x":48.91,"y":72.17},{"s":"b4","x":48.83,"y":72.6},{"s":"b4","x":48.87,"y":72.96},{"s":"b4","x":48.71,"y":73.16}
],
"dots":[
{"x":52.21,"y":52.68},
{"x":49.69,"y":53.68},{"x":50.69,"y":53.2},{"x":53.69,"y":53.68},{"x":55.21,"y":53.2},{"x":55.69,"y":53.68},{"x":56.21,"y":53.2},{"x":56.21,"y":53.68},{"x":57.21,"y":53.68},
{"x":48.69,"y":54.68},{"x":49.21,"y":54.68},{"x":50.21,"y":54.2},{"x":50.69,"y":54.2},{"x":50.21,"y":54.68},{"x":51.21,"y":54.68},{"x":51.69,"y":54.2},{"x":51.69,"y":54.68},{"x":52.21,"y":54.2},{"x":52.21,"y":54.68},{"x":52.69,"y":54.68},{"x":54.21,"y":54.2},{"x":54.21,"y":54.68},{"x":55.21,"y":54.2},{"x":55.69,"y":54.2},{"x":55.21,"y":54.68},
{"x":48.21,"y":55.2},{"x":48.69,"y":55.2},{"x":48.69,"y":55.68},{"x":49.69,"y":55.2},{"x":51.69,"y":55.68},{"x":52.69,"y":55.2},{"x":52.69,"y":55.68},{"x":53.21,"y":55.2},{"x":53.21,"y":55.68},{"x":54.69,"y":55.2},{"x":54.21,"y":55.68},{"x":55.21,"y":55.2},{"x":55.69,"y":55.68},
{"x":45.21,"y":56.2},{"x":49.69,"y":56.2},{"x":50.21,"y":56.2},{"x":50.69,"y":56.2},{"x":53.21,"y":56.2},{"x":54.21,"y":56.68},{"x":63.21,"y":56.2},
{"x":48.21,"y":57.2},{"x":48.69,"y":57.2},{"x":49.21,"y":57.68},{"x":52.69,"y":57.2},{"x":52.69,"y":57.68},{"x":53.21,"y":57.68},{"x":55.21,"y":57.68},{"x":64.21,"y":57.68},
{"x":42.69,"y":58.2},{"x":45.69,"y":58.68},{"x":49.21,"y":58.68},{"x":50.21,"y":58.68},{"x":52.21,"y":58.2},{"x":52.21,"y":58.68},{"x":57.21,"y":58.68},{"x":57.69,"y":58.68},{"x":58.21,"y":58.68},{"x":59.21,"y":58.68},{"x":59.69,"y":58.68},{"x":62.69,"y":58.68},{"x":63.69,"y":58.2},{"x":63.69,"y":58.68},{"x":67.69,"y":58.68},{"x":68.21,"y":58.68},
{"x":42.69,"y":59.68},{"x":45.21,"y":59.68},{"x":45.69,"y":59.68},{"x":46.21,"y":59.68},{"x":48.69,"y":59.2},{"x":48.69,"y":59.68},{"x":49.21,"y":59.2},{"x":49.21,"y":59.68},{"x":49.69,"y":59.68},{"x":50.69,"y":59.2},{"x":51.69,"y":59.2},{"x":51.69,"y":59.68},{"x":52.21,"y":59.68},{"x":53.69,"y":59.68},{"x":58.69,"y":59.68},{"x":59.21,"y":59.68},{"x":60.69,"y":59.2},{"x":60.69,"y":59.68},{"x":63.21,"y":59.68},{"x":67.69,"y":59.2},{"x":72.21,"y":59.2},
{"x":42.69,"y":60.68},{"x":44.21,"y":60.68},{"x":45.21,"y":60.2},{"x":46.69,"y":60.68},{"x":48.21,"y":60.2},{"x":48.69,"y":60.2},{"x":49.69,"y":60.2},{"x":49.69,"y":60.68},{"x":50.21,"y":60.2},{"x":50.69,"y":60.2},{"x":50.21,"y":60.68},{"x":50.69,"y":60.68},{"x":51.21,"y":60.2},{"x":51.69,"y":60.2},{"x":51.21,"y":60.68},{"x":52.21,"y":60.2},{"x":52.21,"y":60.68},{"x":62.21,"y":60.2},
{"x":45.21,"y":61.2},{"x":48.69,"y":61.2},{"x":49.69,"y":61.68},{"x":50.21,"y":61.2},{"x":50.69,"y":61.2},{"x":51.21,"y":61.68},{"x":51.69,"y":61.68},{"x":52.21,"y":61.2},{"x":52.69,"y":61.68},{"x":54.69,"y":61.2},{"x":55.21,"y":61.2},{"x":61.69,"y":61.2},{"x":62.21,"y":61.2},{"x":67.69,"y":61.2},
{"x":46.21,"y":62.68},{"x":50.69,"y":62.2},{"x":51.21,"y":62.2},{"x":51.69,"y":62.68},{"x":52.21,"y":62.2},{"x":52.69,"y":62.2},{"x":52.21,"y":62.68},{"x":57.21,"y":62.68},{"x":57.69,"y":62.68},{"x":64.21,"y":62.2},{"x":68.21,"y":62.68},{"x":77.69,"y":62.2},
{"x":44.69,"y":63.68},{"x":46.21,"y":63.68},{"x":50.69,"y":63.68},{"x":51.21,"y":63.2},{"x":51.69,"y":63.2},{"x":51.21,"y":63.68},{"x":51.69,"y":63.68},{"x":53.69,"y":63.68},{"x":57.21,"y":63.2},{"x":57.21,"y":63.68},{"x":67.21,"y":63.2},{"x":67.69,"y":63.2},{"x":67.21,"y":63.68},{"x":68.21,"y":63.68},{"x":70.21,"y":63.2},{"x":75.69,"y":63.2},
{"x":42.69,"y":64.2},{"x":42.69,"y":64.68},{"x":43.21,"y":64.2},{"x":43.69,"y":64.2},{"x":44.69,"y":64.2},{"x":44.21,"y":64.68},{"x":50.21,"y":64.2},{"x":50.69,"y":64.68},{"x":51.69,"y":64.2},{"x":51.21,"y":64.68},{"x":52.21,"y":64.2},{"x":68.21,"y":64.2},{"x":68.21,"y":64.68},{"x":68.69,"y":64.68},{"x":70.21,"y":64.68},{"x":71.21,"y":64.2},{"x":72.21,"y":64.68},{"x":72.69,"y":64.68},{"x":74.69,"y":64.2},
{"x":44.21,"y":65.68},{"x":45.21,"y":65.2},{"x":45.69,"y":65.2},{"x":45.21,"y":65.68},{"x":48.21,"y":65.2},{"x":48.69,"y":65.68},{"x":49.21,"y":65.2},{"x":49.69,"y":65.2},{"x":51.21,"y":65.68},{"x":64.21,"y":65.2},{"x":64.69,"y":65.2},{"x":65.21,"y":65.2},{"x":66.21,"y":65.2},{"x":66.21,"y":65.68},
{"x":45.69,"y":66.68},{"x":48.69,"y":66.2},{"x":48.21,"y":66.68},{"x":49.21,"y":66.2},{"x":49.21,"y":66.68},{"x":49.69,"y":66.68},{"x":50.69,"y":66.68},{"x":51.21,"y":66.68},{"x":51.69,"y":66.68},{"x":52.21,"y":66.68},{"x":52.69,"y":66.68},{"x":53.21,"y":66.2},{"x":53.21,"y":66.68},{"x":64.69,"y":66.2},{"x":64.69,"y":66.68},{"x":65.69,"y":66.68},{"x":66.21,"y":66.2},{"x":66.21,"y":66.68},{"x":74.69,"y":66.2},
{"x":46.69,"y":67.68},{"x":47.21,"y":67.2},{"x":47.69,"y":67.2},{"x":47.21,"y":67.68},{"x":47.69,"y":67.68},{"x":48.21,"y":67.2},{"x":48.69,"y":67.2},{"x":48.21,"y":67.68},{"x":49.21,"y":67.2},{"x":49.69,"y":67.2},{"x":49.21,"y":67.68},{"x":49.69,"y":67.68},{"x":50.69,"y":67.2},{"x":50.21,"y":67.68},{"x":51.21,"y":67.2},{"x":51.69,"y":67.2},{"x":51.21,"y":67.68},{"x":51.69,"y":67.68},{"x":52.21,"y":67.2},{"x":52.69,"y":67.2},{"x":52.21,"y":67.68},{"x":60.69,"y":67.2},{"x":64.21,"y":67.2},{"x":65.21,"y":67.2},{"x":65.69,"y":67.2},{"x":65.21,"y":67.68},{"x":65.69,"y":67.68},{"x":66.21,"y":67.2},{"x":66.21,"y":67.68},
{"x":46.21,"y":68.2},{"x":47.21,"y":68.2},{"x":47.69,"y":68.2},{"x":48.69,"y":68.2},{"x":48.69,"y":68.68},{"x":49.21,"y":68.2},{"x":49.21,"y":68.68},{"x":52.69,"y":68.2},{"x":52.21,"y":68.68},{"x":58.21,"y":68.2},{"x":59.21,"y":68.2},{"x":63.21,"y":68.68},{"x":63.69,"y":68.68},{"x":65.21,"y":68.2},{"x":65.21,"y":68.68},{"x":66.21,"y":68.2},{"x":67.69,"y":68.2},{"x":68.69,"y":68.2},{"x":68.21,"y":68.68},{"x":68.69,"y":68.68},{"x":69.21,"y":68.68},
{"x":48.69,"y":69.2},{"x":48.69,"y":69.68},{"x":49.21,"y":69.2},{"x":49.69,"y":69.68},{"x":58.69,"y":69.68},{"x":62.21,"y":69.2},{"x":62.69,"y":69.2},{"x":63.21,"y":69.2},{"x":63.69,"y":69.2},{"x":64.69,"y":69.2},{"x":64.21,"y":69.68},{"x":66.69,"y":69.68},{"x":67.69,"y":69.2},
{"x":49.69,"y":70.2},{"x":50.69,"y":70.68},{"x":51.21,"y":70.2},{"x":51.21,"y":70.68},{"x":51.69,"y":70.68},{"x":52.21,"y":70.68},{"x":52.69,"y":70.68},{"x":59.69,"y":70.68},{"x":60.21,"y":70.68},{"x":63.21,"y":70.2},{"x":63.69,"y":70.2},{"x":63.69,"y":70.68},{"x":66.69,"y":70.2},{"x":66.21,"y":70.68},{"x":67.21,"y":70.2},
{"x":50.69,"y":71.2},{"x":50.69,"y":71.68},{"x":51.21,"y":71.2},{"x":51.69,"y":71.2},{"x":51.21,"y":71.68},{"x":51.69,"y":71.68},{"x":52.21,"y":71.2},{"x":52.21,"y":71.68},{"x":61.21,"y":71.2},{"x":62.21,"y":71.68},{"x":65.69,"y":71.2},{"x":65.69,"y":71.68},{"x":66.21,"y":71.68},{"x":71.69,"y":71.2},
{"x":50.21,"y":72.2},{"x":50.69,"y":72.2},{"x":50.69,"y":72.68},{"x":51.21,"y":72.2},{"x":51.69,"y":72.2},{"x":51.21,"y":72.68},{"x":52.21,"y":72.68},{"x":66.21,"y":72.2},{"x":66.21,"y":72.68}
],
"vlines":[{"x":38,"y":49,"y2":74.9},{"x":39,"y":49,"y2":74.9},{"x":40,"y":49,"y2":74.9},{"x":41,"y":49,"y2":74.9},{"x":42,"y":49,"y2":74.9},{"x":43,"y":49,"y2":74.9},{"x":44,"y":49,"y2":74.9},{"x":45,"y":49,"y2":74.9},{"x":46,"y":49,"y2":74.9},{"x":47,"y":49,"y2":74.9},{"x":48,"y":49,"y2":74.9},{"x":49,"y":49,"y2":74.9},{"x":50,"y":49,"y2":74.9},{"x":51,"y":49,"y2":74.9},{"x":52,"y":49,"y2":74.9},{"x":53,"y":49,"y2":74.9},{"x":54,"y":49,"y2":74.9},{"x":55,"y":49,"y2":74.9},{"x":56,"y":49,"y2":74.9},{"x":57,"y":49,"y2":74.9},{"x":58,"y":49,"y2":74.9},{"x":59,"y":49,"y2":74.9},{"x":60,"y":49,"y2":74.9},{"x":61,"y":49,"y2":74.9},{"x":62,"y":49,"y2":74.9},{"x":63,"y":49,"y2":74.9},{"x":64,"y":49,"y2":74.9},{"x":65,"y":49,"y2":74.9},{"x":66,"y":49,"y2":74.9},{"x":67,"y":49,"y2":74.9},{"x":68,"y":49,"y2":74.9},{"x":69,"y":49,"y2":74.9},{"x":70,"y":49,"y2":74.9},{"x":71,"y":49,"y2":74.9},{"x":72,"y":49,"y2":74.9},{"x":73,"y":49,"y2":74.9},{"x":74,"y":49,"y2":74.9},{"x":75,"y":49,"y2":74.9},{"x":76,"y":49,"y2":74.9},{"x":77,"y":49,"y2":74.9},{"x":78,"y":49,"y2":74.9},{"x":79,"y":49,"y2":74.9},{"x":80,"y":49,"y2":74.9}],
"hlines":[{"y":49,"x":38,"x2":80},{"y":50,"x":38,"x2":80},{"y":51,"x":38,"x2":80},{"y":52,"x":38,"x2":80},{"y":53,"x":38,"x2":80},{"y":54,"x":38,"x2":80},{"y":55,"x":38,"x2":80},{"y":56,"x":38,"x2":80},{"y":57,"x":38,"x2":80},{"y":58,"x":38,"x2":80},{"y":59,"x":38,"x2":80},{"y":60,"x":38,"x2":80},{"y":61,"x":38,"x2":80},{"y":62,"x":38,"x2":80},{"y":63,"x":38,"x2":80},{"y":64,"x":38,"x2":80},{"y":65,"x":38,"x2":80},{"y":66,"x":38,"x2":80},{"y":67,"x":38,"x2":80},{"y":68,"x":38,"x2":80},{"y":69,"x":38,"x2":80},{"y":70,"x":38,"x2":80},{"y":71,"x":38,"x2":80},{"y":72,"x":38,"x2":80},{"y":73,"x":38,"x2":80},{"y":74,"x":38,"x2":80}],
"labels":[
{"t":"39","x":39.5,"y":49.55},{"t":"40","x":40.5,"y":49.55},{"t":"41","x":41.5,"y":49.55},{"t":"42","x":42.5,"y":49.55},{"t":"43","x":43.5,"y":49.55},{"t":"44","x":44.5,"y":49.55},{"t":"45","x":45.5,"y":49.55},{"t":"46","x":46.5,"y":49.55},{"t":"47","x":47.5,"y":49.55},{"t":"48","x":48.5,"y":49.55},{"t":"49","x":49.5,"y":49.55},{"t":"50","x":50.5,"y":49.55},{"t":"54","x":54.5,"y":49.55},{"t":"55","x":55.5,"y":49.55},{"t":"58","x":58.5,"y":49.55},{"t":"59","x":59.5,"y":49.55},{"t":"60","x":60.5,"y":49.55},{"t":"61","x":61.5,"y":49.55},{"t":"62","x":62.5,"y":49.55},{"t":"63","x":63.5,"y":49.55},{"t":"64","x":64.5,"y":49.55},{"t":"65","x":65.5,"y":49.55},{"t":"66","x":66.5,"y":49.55},{"t":"67","x":67.5,"y":49.55},{"t":"68","x":68.5,"y":49.55},{"t":"69","x":69.5,"y":49.55},{"t":"70","x":70.5,"y":49.55},{"t":"71","x":71.5,"y":49.55},{"t":"72","x":72.5,"y":49.55},{"t":"73","x":73.5,"y":49.55},{"t":"74","x":74.5,"y":49.55},{"t":"75","x":75.5,"y":49.55},{"t":"76","x":76.5,"y":49.55},{"t":"77","x":77.5,"y":49.55},{"t":"78","x":78.5,"y":49.55},
{"t":"39","x":39.5,"y":74.48},{"t":"40","x":40.5,"y":74.48},{"t":"41","x":41.5,"y":74.48},{"t":"42","x":42.5,"y":74.48},{"t":"43","x":43.5,"y":74.48},{"t":"44","x":44.5,"y":74.48},{"t":"45","x":45.5,"y":74.48},{"t":"46","x":46.5,"y":74.48},{"t":"47","x":47.5,"y":74.48},{"t":"48","x":48.5,"y":74.48},{"t":"49","x":49.5,"y":74.48},{"t":"50","x":50.5,"y":74.48},{"t":"53","x":53.5,"y":74.48},{"t":"54","x":54.5,"y":74.48},{"t":"55","x":55.5,"y":74.48},{"t":"56","x":56.5,"y":74.48},{"t":"57","x":57.5,"y":74.48},{"t":"58","x":58.5,"y":74.48},{"t":"59","x":59.5,"y":74.48},{"t":"60","x":60.5,"y":74.48},{"t":"61","x":61.5,"y":74.48},{"t":"62","x":62.5,"y":74.48},{"t":"63","x":63.5,"y":74.48},{"t":"64","x":64.5,"y":74.48},{"t":"65","x":65.5,"y":74.48},{"t":"66","x":66.5,"y":74.48},{"t":"67","x":67.5,"y":74.48},{"t":"68","x":68.5,"y":74.48},{"t":"69","x":69.5,"y":74.48},{"t":"70","x":70.5,"y":74.48},{"t":"71","x":71.5,"y":74.48},{"t":"72","x":72.5,"y":74.48},{"t":"73","x":73.5,"y":74.48},{"t":"74","x":74.5,"y":74.48},{"t":"75","x":75.5,"y":74.48},{"t":"76","x":76.5,"y":74.48},{"t":"77","x":77.5,"y":74.48},{"t":"78","x":78.5,"y":74.48},
{"t":"50","x":38.5,"y":50.58},{"t":"51","x":38.5,"y":51.58},{"t":"52","x":38.5,"y":52.58},{"t":"53","x":38.5,"y":53.58},{"t":"54","x":38.5,"y":54.58},{"t":"55","x":38.5,"y":55.58},{"t":"58","x":38.5,"y":58.58},{"t":"59","x":38.5,"y":59.58},{"t":"60","x":38.5,"y":60.58},{"t":"61","x":38.5,"y":61.58},{"t":"62","x":38.5,"y":62.58},{"t":"63","x":38.5,"y":63.58},{"t":"64","x":38.5,"y":64.58},{"t":"65","x":38.5,"y":65.58},{"t":"66","x":38.5,"y":66.58},{"t":"67","x":38.5,"y":67.58},{"t":"68","x":38.5,"y":68.58},{"t":"69","x":38.5,"y":69.58},{"t":"70","x":38.5,"y":70.58},{"t":"71","x":38.5,"y":71.58},{"t":"72","x":38.5,"y":72.58},{"t":"73","x":38.5,"y":73.58},
{"t":"50","x":79.5,"y":50.48},{"t":"51","x":79.5,"y":51.48},{"t":"52","x":79.5,"y":52.48},{"t":"53","x":79.5,"y":53.48},{"t":"54","x":79.5,"y":54.48},{"t":"55","x":79.5,"y":55.48},{"t":"56","x":79.5,"y":56.48},{"t":"57","x":79.5,"y":57.48},{"t":"58","x":79.5,"y":58.48},{"t":"59","x":79.5,"y":59.48},{"t":"60","x":79.5,"y":60.48},{"t":"61","x":79.5,"y":61.48},{"t":"62","x":79.5,"y":62.48},{"t":"63","x":79.5,"y":63.48},{"t":"64","x":79.5,"y":64.48},{"t":"65","x":79.5,"y":65.48},{"t":"66","x":79.5,"y":66.48},{"t":"67","x":79.5,"y":67.48},{"t":"68","x":79.5,"y":68.48},{"t":"69","x":79.5,"y":69.48},{"t":"70","x":79.5,"y":70.48},{"t":"71","x":79.5,"y":71.48},{"t":"72","x":79.5,"y":72.48},{"t":"73","x":79.5,"y":73.48}
],
"site":[{"t":"www.florabase.cz","x":74.34,"y":51.78}]
},
"encoding":{"x":{"field":"x","type":"quantitative","scale":{"domain":[37.77,80.43],"nice":false,"zero":false},"axis":null},"y":{"field":"y","type":"quantitative","scale":{"domain":[74.9,48.81],"nice":false,"zero":false},"axis":null}},
"layer":[
{"data":{"name":"gray"},"mark":{"type":"rect","fill":"#e6e6e6"},"encoding":{"x2":{"field":"x2"},"y2":{"field":"y2"}}},
{"data":{"name":"rivers"},"transform":[{"window":[{"op":"row_number","as":"i"}]}],"mark":{"type":"line","stroke":"#8ae2f8","strokeWidth":4,"opacity":0.65,"strokeJoin":"round"},"encoding":{"detail":{"field":"s"},"order":{"field":"i","type":"quantitative"}}},
{"data":{"name":"rivers"},"transform":[{"window":[{"op":"row_number","as":"i"}]}],"mark":{"type":"line","stroke":"#0a9dbb","strokeWidth":2.6,"strokeJoin":"round"},"encoding":{"detail":{"field":"s"},"order":{"field":"i","type":"quantitative"}}},
{"data":{"name":"border"},"transform":[{"window":[{"op":"row_number","as":"i"}]}],"mark":{"type":"line","stroke":"#f2bb9b","strokeWidth":3.6,"opacity":0.75,"strokeJoin":"round"},"encoding":{"detail":{"field":"s"},"order":{"field":"i","type":"quantitative"}}},
{"data":{"name":"border"},"transform":[{"window":[{"op":"row_number","as":"i"}]}],"mark":{"type":"line","stroke":"#c5443a","strokeWidth":2,"strokeJoin":"round"},"encoding":{"detail":{"field":"s"},"order":{"field":"i","type":"quantitative"}}},
{"data":{"name":"vlines"},"mark":{"type":"rule","color":"#111111","strokeWidth":1.8},"encoding":{"y2":{"field":"y2"}}},
{"data":{"name":"hlines"},"mark":{"type":"rule","color":"#111111","strokeWidth":1.8},"encoding":{"x2":{"field":"x2"}}},
{"data":{"name":"dots"},"mark":{"type":"circle","size":125,"fill":"#0000ff","opacity":1}},
{"data":{"name":"labels"},"mark":{"type":"text","font":"DejaVu Sans","fontSize":28,"fill":"#333333","align":"center","baseline":"middle"},"encoding":{"text":{"field":"t"}}},
{"data":{"name":"site"},"mark":{"type":"text","font":"DejaVu Sans Mono","fontWeight":"bold","fontSize":30,"fill":"#0000ff","align":"center","baseline":"alphabetic"},"encoding":{"text":{"field":"t"}}}
]}
